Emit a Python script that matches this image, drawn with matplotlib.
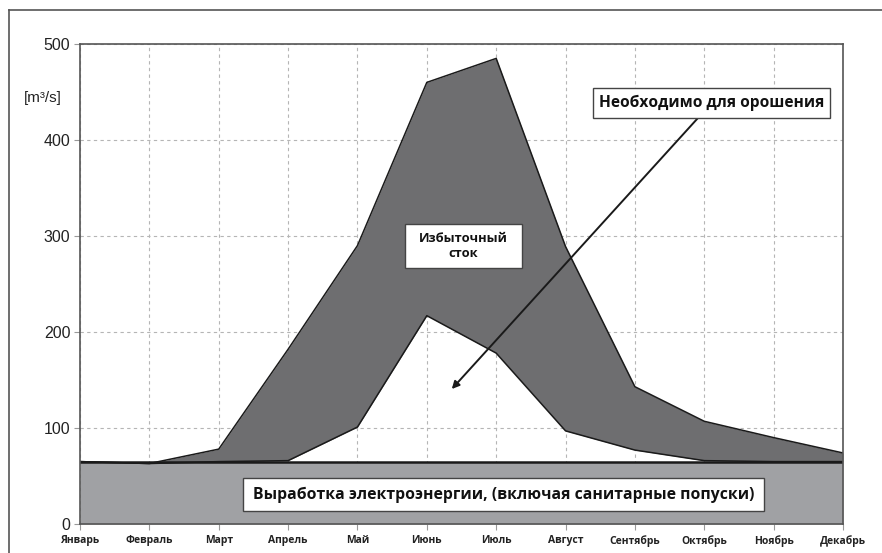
import matplotlib
matplotlib.use("Agg")
import matplotlib.pyplot as plt
import numpy as np
from matplotlib.lines import Line2D
from matplotlib.patches import Rectangle

months = ["Январь", "Февраль", "Март", "Апрель", "Май", "Июнь", "Июль",
          "Август", "Сентябрь", "Октябрь", "Ноябрь", "Декабрь"]
total_flow = [65, 63, 78, 182, 290, 460, 485, 289, 143, 107, 90, 74]
irrigation_plus_power = [65, 63, 65, 66, 101, 217, 178, 97, 77, 66, 65, 65]
power_base = [65] * 12
y_ticks = [0, 100, 200, 300, 400, 500]

label_power = "Выработка электроэнергии, (включая санитарные попуски)"
label_excess = "Избыточный\nсток"
label_irrig = "Необходимо для орошения"
unit_label = "[m³/s]"

BOLD = "Open Sans"

W, H = 882, 553
fig = plt.figure(figsize=(W / 100, H / 100), dpi=100)
ax = fig.add_axes([80 / W, (H - 524) / H, (843 - 80) / W, (524 - 44) / H])

x = np.arange(len(months))
up = np.array(total_flow, dtype=float)
lo = np.array(irrigation_plus_power, dtype=float)
base = np.array(power_base, dtype=float)

dark = "#6e6e70"
light = "#a0a1a4"

ax.fill_between(x, 0, np.minimum(base, lo), color=light, lw=0, zorder=2)
ax.fill_between(x, lo, up, color=dark, lw=0, zorder=2)
ax.plot(x, up, color="#1a1a1a", lw=1.1, zorder=3)
ax.plot(x, lo, color="#1a1a1a", lw=1.1, zorder=3)
ax.plot(x, base, color="#1a1a1a", lw=1.8, zorder=3)

ax.set_xlim(0, len(months) - 1)
ax.set_ylim(0, 500)
ax.set_xticks(x)
ax.set_xticklabels(months, fontfamily=BOLD, fontweight="bold", fontsize=7.5, color="#222222")
ax.set_yticks(y_ticks)
ax.set_yticklabels([str(v) for v in y_ticks], fontfamily="Liberation Sans", fontsize=11.5, color="#222222")
ax.tick_params(axis="both", length=4, color="#999999", width=0.8, pad=4)
ax.tick_params(axis="y", pad=3)

ax.grid(True, which="major", axis="both", linestyle=(0, (3, 3)), color="#b5b5b5", lw=0.8, zorder=1)
ax.set_axisbelow(True)
for s in ax.spines.values():
    s.set_color("#555555")
    s.set_linewidth(1.2)
    s.set_zorder(5)

# unit label
ax.text(-0.53, 444, unit_label, fontfamily="Liberation Sans", fontsize=11, ha="center", va="center",
        color="#222222", clip_on=False)


def px_box(x0, x1, y0, y1, z):
    # convert pixel box to data coordinates
    dx0 = (x0 - 80) / ((843 - 80) / 11)
    dx1 = (x1 - 80) / ((843 - 80) / 11)
    dy0 = (524 - y1) / 0.96
    dy1 = (524 - y0) / 0.96
    ax.add_patch(Rectangle((dx0, dy0), dx1 - dx0, dy1 - dy0, fc="white", ec="#444444",
                           lw=1.0, zorder=z))
    return (dx0 + dx1) / 2, (dy0 + dy1) / 2


cx, cy = px_box(243, 764, 478, 511, 6)
ax.text(cx, cy, label_power, fontfamily=BOLD, fontweight="bold", fontsize=11.3,
        ha="center", va="center", color="#111111", zorder=7)

cx, cy = px_box(405, 522, 224, 268, 6)
ax.text(cx, cy, label_excess, fontfamily=BOLD, fontweight="bold", fontsize=9.3,
        ha="center", va="center", color="#111111", zorder=7, linespacing=1.2)

# arrow
ax.annotate("", xy=(5.36, 140.6), xytext=(8.91, 423),
            arrowprops=dict(arrowstyle="-|>", color="#1a1a1a", lw=1.4, mutation_scale=11,
                            shrinkA=0, shrinkB=0), zorder=6)

cx, cy = px_box(593, 830, 88, 118, 7)
ax.text(cx, cy, label_irrig, fontfamily=BOLD, fontweight="bold", fontsize=11.2,
        ha="center", va="center", color="#111111", zorder=8)

# outer frame lines
fig.add_artist(Line2D([9 / W, 1.0], [1 - 10 / H, 1 - 10 / H], color="#555555", lw=1.2,
                      transform=fig.transFigure))
fig.add_artist(Line2D([9 / W, 9 / W], [0, 1 - 10 / H], color="#555555", lw=1.2,
                      transform=fig.transFigure))

fig.savefig("out.png", dpi=100)
